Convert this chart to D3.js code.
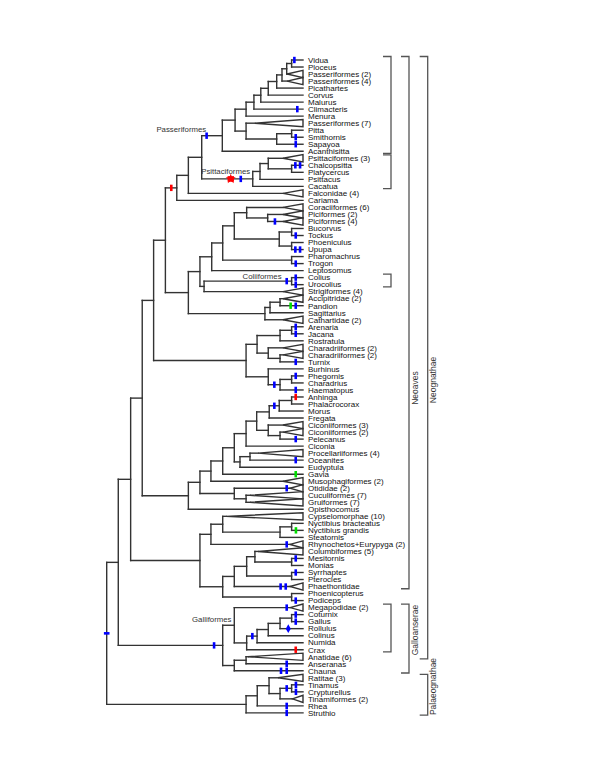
<!DOCTYPE html>
<html><head><meta charset="utf-8">
<script src="https://cdn.jsdelivr.net/npm/d3@7"></script>
<style>body{margin:0;background:#fff}svg{display:block}text{font-family:"Liberation Sans",Arial,sans-serif}</style>
</head><body>
<svg id="c" width="600" height="764"></svg>
<script>
// ---------------- DATA ----------------
// tip order (top to bottom)
const leafOrder = ["Vidua","Ploceus","Passeriformes (2)","Passeriformes (4)","Picathartes","Corvus","Malurus","Climacteris","Menura","Passeriformes (7)","Pitta","Smithornis","Sapayoa","Acanthisitta","Psittaciformes (3)","Chalcopsitta","Platycercus","Psittacus","Cacatua","Falconidae (4)","Cariama","Coraciiformes (6)","Piciformes (2)","Piciformes (4)","Bucorvus","Tockus","Phoeniculus","Upupa","Pharomachrus","Trogon","Leptosomus","Colius","Urocolius","Strigiformes (4)","Accipitridae (2)","Pandion","Sagittarius","Cathartidae (2)","Arenaria","Jacana","Rostratula","Charadriiformes (2)#a","Charadriiformes (2)#b","Turnix","Burhinus","Phegornis","Charadrius","Haematopus","Anhinga","Phalacrocorax","Morus","Fregata","Ciconiiformes (3)","Ciconiiformes (2)","Pelecanus","Ciconia","Procellariiformes (4)","Oceanites","Eudyptula","Gavia","Musophagiformes (2)","Otididae (2)","Cuculiformes (7)","Gruiformes (7)","Opisthocomus","Cypselomorphae (10)","Nyctibius bracteatus","Nyctibius grandis","Steatornis","Rhynochetos+Eurypyga (2)","Columbiformes (5)","Mesitornis","Monias","Syrrhaptes","Pterocles","Phaethontidae","Phoenicopterus","Podiceps","Megapodidae (2)","Coturnix","Gallus","Rollulus","Colinus","Numida","Crax","Anatidae (6)","Anseranas","Chauna","Ratitae (3)","Tinamus","Crypturellus","Tinamiformes (2)","Rhea","Struthio"];

// topology with relative node depths (0 = root, 100 = tips)
function T(name, depth, ...kids){ return {name, depth, kids}; }
const tree =
T("root",0,
  T("Neognathae",5.9,
    T("Neoaves",12.2,
      T("A",18.1,
        T("B",23.9,
          T("C",29.9,
            T("D",35.7,
              T("E",41.6,
                T("F",48.4,
                  T("Passeriformes",58.9,
                    T("P1",65.4,
                      T("Oscines",71.0,
                        T("O1",75.0,
                          T("O2",78.5,
                            T("O3",82.3,
                              T("O4",86.6,
                                T("N3",89.3,
                                  T("N2",91.7, T("N1",94.2,"Vidua","Ploceus"), "Passeriformes (2)"),
                                  "Passeriformes (4)"),
                                "Picathartes"),
                              "Corvus"),
                            "Malurus"),
                          "Climacteris"),
                        "Menura"),
                      T("Suboscines",71.0,"Passeriformes (7)",
                        T("Y",86.6, T("Z",94.2,"Pitta","Smithornis"),"Sapayoa"))),
                    "Acanthisitta"),
                  T("Psittaciformes",74.4,
                    T("Q3",78.1, T("Q2",82.3,"Psittaciformes (3)", T("Q1",94.2,"Chalcopsitta","Platycercus")),"Psittacus"),
                    "Cacatua")),
                "Falconidae (4)"),
              "Cariama"),
            T("G",41.6,
              T("H",47.5,
                T("I",53.5,
                  T("J",59.1,
                    T("J1",65.0,
                      T("CorPic",71.3,"Coraciiformes (6)", T("Pic",82.0,"Piciformes (2)","Piciformes (4)")),
                      T("Buc",87.9, T("BT",94.2,"Bucorvus","Tockus"), T("PU",94.2,"Phoeniculus","Upupa"))),
                    T("Trog",94.2,"Pharomachrus","Trogon")),
                  "Leptosomus"),
                T("K",49.6, T("Coliiformes",94.2,"Colius","Urocolius"), "Strigiformes (4)")),
              T("Raptors",80.6, T("SAP",83.2, T("AP",88.3,"Accipitridae (2)","Pandion"),"Sagittarius"),"Cathartidae (2)"))),
          T("Charadriiformes",71.0,
            T("Ch1",76.6,
              T("S1",88.3, T("AJ",94.2,"Arenaria","Jacana"),"Rostratula"),
              T("L",82.3,"Charadriiformes (2)#a", T("L2",88.3,"Charadriiformes (2)#b","Turnix"))),
            T("Ch2",82.3,"Burhinus", T("Ch3",88.3, T("PC",94.2,"Phegornis","Charadrius"),"Haematopus")))),
        T("Abot",41.6,
          T("M",47.5,
            T("M1",53.1,
              T("W",59.1,
                T("W1",65.0,
                  T("Pelgrp",71.0,
                    T("Pel1",76.4,
                      T("Suloidea",82.8, T("AnPhMo",87.9, T("AnPh",94.2,"Anhinga","Phalacrocorax"),"Morus"),"Fregata"),
                      T("Cicon",82.3,"Ciconiiformes (3)", T("CicPel",88.3,"Ciconiiformes (2)","Pelecanus"))),
                    "Ciconia"),
                  T("SphProc",67.9, T("ProcOc",73.0,"Procellariiformes (4)","Oceanites"),"Eudyptula")),
                "Gavia"),
              "Musophagiformes (2)"),
            T("M2",65.0,"Otididae (2)", T("CG",71.0,"Cuculiformes (7)","Gruiformes (7)"))),
          "Opisthocomus")),
      T("NB",47.5,
        T("Ncap",53.1,
          T("Capri",59.1,"Cypselomorphae (10)", T("NS",88.3, T("NN",94.2,"Nyctibius bracteatus","Nyctibius grandis"),"Steatornis")),
          "Rhynochetos+Eurypyga (2)"),
        T("Y2",59.1,
          T("Y1",65.0,
            T("X1",71.3, T("CM",75.5,"Columbiformes (5)", T("MM",94.2,"Mesitornis","Monias")), T("SP",94.2,"Syrrhaptes","Pterocles")),
            "Phaethontidae"),
          T("FP",94.2,"Phoenicopterus","Podiceps")))),
    T("Galloanserae",59.1,
      T("Galliformes",65.0,"Megapodidae (2)",
        T("G5",71.3, T("G4",76.6, T("G3",82.3, T("G2",88.3, T("G1",94.2,"Coturnix","Gallus"),"Rollulus"),"Colinus"),"Numida"),"Crax")),
      T("Anseriformes",65.0, T("AA",71.0,"Anatidae (6)","Anseranas"),"Chauna"))),
  T("Palaeognathae",71.0,
    T("P3",76.7, T("P2",82.7,"Ratitae (3)", T("Tinamidae",88.3, T("TC",94.2,"Tinamus","Crypturellus"),"Tinamiformes (2)")),"Rhea"),
    "Struthio"));

// collapsed clades: [tip, depth of triangle apex]
const collapsed = [
 ["Passeriformes (2)",91.9],["Passeriformes (4)",91.9],["Passeriformes (7)",75.5],
 ["Psittaciformes (3)",89.8],["Falconidae (4)",89.8],
 ["Coraciiformes (6)",89.8],["Piciformes (2)",89.8],["Piciformes (4)",89.8],
 ["Strigiformes (4)",89.8],["Accipitridae (2)",89.8],["Cathartidae (2)",89.8],
 ["Charadriiformes (2)#a",89.8],["Charadriiformes (2)#b",89.8],
 ["Ciconiiformes (3)",89.8],["Ciconiiformes (2)",89.8],
 ["Procellariiformes (4)",77.1],["Musophagiformes (2)",89.8],["Otididae (2)",93.4],
 ["Cuculiformes (7)",73.0],["Gruiformes (7)",73.0],
 ["Cypselomorphae (10)",60.8],["Rhynochetos+Eurypyga (2)",93.4],["Columbiformes (5)",77.1],
 ["Phaethontidae",93.4],["Megapodidae (2)",93.4],["Anatidae (6)",72.0],
 ["Ratitae (3)",87.3],["Tinamiformes (2)",94.6]
];

// character markers: [branch (node/tip), depth, colour, kind]
const markers = [
 ["Passeriformes",50.9,"blue"],["Psittaciformes",63.2,"red","star"],["Psittaciformes",68.3,"blue"],
 ["D",32.9,"red"],["Vidua",95.6,"blue"],["Climacteris",97.1,"blue"],
 ["Smithornis",96.3,"blue"],["Sapayoa",96.3,"blue"],
 ["Chalcopsitta",96.1,"blue"],["Chalcopsitta",98.5,"blue"],
 ["Piciformes (4)",85.7,"blue"],["Tockus",96.3,"blue"],
 ["Upupa",96.1,"blue"],["Upupa",98.5,"blue"],["Trogon",96.3,"blue"],
 ["Coliiformes",91.7,"blue"],["Colius",96.3,"blue"],["Urocolius",96.3,"blue"],
 ["Pandion",93.7,"green"],["Pandion",96.3,"blue"],
 ["Arenaria",96.3,"blue"],["Jacana",96.3,"blue"],["Turnix",96.3,"blue"],
 ["Ch3",85.4,"blue"],["Phegornis",96.3,"blue"],["Haematopus",96.3,"blue"],
 ["Anhinga",96.3,"red"],["AnPhMo",85.4,"blue"],["Pelecanus",96.3,"blue"],["Oceanites",96.3,"blue"],
 ["Gavia",96.3,"green"],["Otididae (2)",91.7,"blue"],
 ["Nyctibius grandis",96.4,"green"],["Rhynochetos+Eurypyga (2)",91.7,"blue"],
 ["Mesitornis",96.3,"blue"],["Syrrhaptes",96.3,"blue"],
 ["Phaethontidae",88.6,"blue"],["Phaethontidae",91.2,"blue"],
 ["Podiceps",96.3,"blue"],["Megapodidae (2)",91.7,"blue"],
 ["Coturnix",96.3,"blue"],["Gallus",96.3,"blue"],["Rollulus",92.5,"blue","dot"],
 ["G4",74.2,"blue"],["Crax",96.3,"red"],["Galloanserae",54.7,"blue"],
 ["Anseranas",91.7,"blue"],["Chauna",88.8,"blue"],["Chauna",91.7,"blue"],
 ["Tinamus",96.4,"blue"],["Crypturellus",96.4,"blue"],["TC",91.7,"blue"],
 ["Rhea",91.7,"blue"],["Struthio",91.7,"blue"],["root",0,"blue","dash"]
];

// branch labels
const branchLabels = ["Passeriformes","Psittaciformes","Coliiformes","Galliformes"];

// brackets: [label, first tip, last tip, column]
const brackets = [
 ["", "Vidua","Acanthisitta",0],
 ["", "Psittaciformes (3)","Cacatua",0],
 ["", "Colius","Urocolius",0],
 ["", "Megapodidae (2)","Crax",0],
 ["Neoaves","Vidua","Phaethontidae",1],
 ["Galloanserae","Megapodidae (2)","Chauna",1],
 ["Neognathae","Vidua","Anatidae (6)",2],
 ["Palaeognathae","Ratitae (3)","Struthio",2]
];

// ---------------- DRAW ----------------
const svg = d3.select("#c");
const x = d3.scaleLinear().domain([0,100]).range([106.7,303]);
const y = d3.scalePoint().domain(leafOrder).range([60,712.9]);
const colMap = new Map(collapsed);
const colours = {blue:"#0000ff", red:"#ff0000", green:"#00dd00"};
const LINE = "#333", HALF = 3.6;

const root = d3.hierarchy(tree, d => d.kids ? d.kids.map(k => typeof k === "string" ? {name:k} : k) : null);
root.eachAfter(n => {
  if (!n.children) { n.py = y(n.data.name); n.px = x(100); }
  else { n.py = (n.children[0].py + n.children[n.children.length-1].py)/2; n.px = x(n.data.depth); }
});
const byName = new Map(); root.each(n => byName.set(n.data.name, n));

const g = svg.append("g").attr("fill","none").attr("stroke",LINE).attr("stroke-width",1.4).attr("stroke-linecap","square");
// horizontal branches
root.descendants().filter(n => n.parent).forEach(n => {
  const end = colMap.has(n.data.name) ? x(colMap.get(n.data.name)) : n.px;
  g.append("line").attr("x1",n.parent.px).attr("x2",end).attr("y1",n.py).attr("y2",n.py);
});
// vertical connectors
root.descendants().filter(n => n.children).forEach(n => {
  g.append("line").attr("x1",n.px).attr("x2",n.px)
   .attr("y1",n.children[0].py).attr("y2",n.children[n.children.length-1].py);
});
// triangles for collapsed clades
collapsed.forEach(([name, d]) => {
  const n = byName.get(name);
  g.append("path").attr("stroke-linejoin","miter")
   .attr("d", `M${x(d)},${n.py}L${x(100)},${n.py-HALF}L${x(100)},${n.py+HALF}Z`);
});

// tip labels
svg.append("g").selectAll("text").data(root.leaves()).join("text")
  .attr("x", x(100)+5).attr("y", d => d.py).attr("dy","0.35em")
  .attr("font-size",8).attr("fill","#111")
  .text(d => d.data.name.replace(/#.*$/,""));

// markers
const mg = svg.append("g");
markers.forEach(([name, d, c, kind]) => {
  const n = byName.get(name), cx = x(d), cy = n.py, col = colours[c];
  if (kind === "star") {
    mg.append("path").attr("d", d3.symbol(d3.symbolStar, 32)()).attr("transform",`translate(${cx},${cy})`).attr("fill",col);
    mg.append("rect").attr("x",cx-3.2).attr("y",cy-2.8).attr("width",6.4).attr("height",5.6).attr("fill",col);
  } else if (kind === "dot") {
    mg.append("path").attr("d", d3.symbol(d3.symbolDiamond, 22)()).attr("transform",`translate(${cx},${cy})`).attr("fill",col);
  } else if (kind === "dash") {
    mg.append("rect").attr("x",cx-2.8).attr("y",cy-1.3).attr("width",5.6).attr("height",2.6).attr("fill",col);
  } else {
    mg.append("rect").attr("x",cx-1.3).attr("y",cy-3.2).attr("width",2.6).attr("height",6.4).attr("fill",col);
  }
});

// branch labels (placement)
const labelPos = {
  Passeriformes: n => [n.parent.px+4.5, n.py-3.4, "end"],
  Psittaciformes: n => [n.parent.px-0.5, n.py-5.4, "start"],
  Coliiformes: n => [n.px-10, n.py-2.2, "end"],
  Galliformes: n => [n.px-2.8, n.py-3.3, "end"]
};
branchLabels.forEach(name => {
  const n = byName.get(name), [lx, ly, anc] = labelPos[name](n);
  svg.append("text").attr("x",lx).attr("y",ly).attr("text-anchor",anc)
    .attr("font-size",7.8).attr("fill","#333").text(name);
});

// brackets
const colX = [391, 409, 427.7], tick = 8;
const labelY = {Neoaves:388, Neognathae:380, Galloanserae:630, Palaeognathae:686.5};
const bg = svg.append("g").attr("fill","none").attr("stroke","#555").attr("stroke-width",1.3);
brackets.forEach(([label, a, b, col]) => {
  const y1 = y(a) - 3.5, y2 = y(b) + 2.2, bx = colX[col];
  bg.append("path").attr("d", `M${bx-tick},${y1}H${bx}V${y2}H${bx-tick}`);
  if (label) {
    svg.append("text").attr("transform",`translate(${bx+8.5},${labelY[label]}) rotate(-90)`)
      .attr("text-anchor","middle").attr("font-size",8.5).attr("fill","#333").text(label);
  }
});
</script>
</body></html>
